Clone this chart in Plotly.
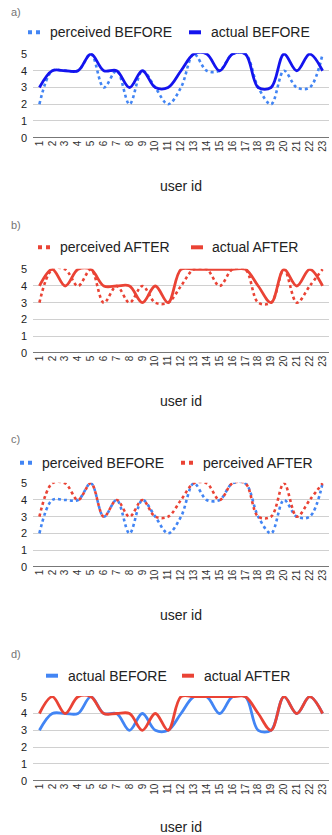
import plotly.graph_objects as go

users = [str(i) for i in range(1, 24)]
perceived_before = [2, 4, 4, 4, 5, 3, 4, 2, 4, 3, 2, 3, 5, 4, 4, 5, 5, 3, 2, 4, 3, 3, 5]
actual_before = [3, 4, 4, 4, 5, 4, 4, 3, 4, 3, 3, 4, 5, 5, 4, 5, 5, 3, 3, 5, 4, 5, 4]
perceived_after = [3, 5, 5, 4, 5, 3, 4, 3, 4, 3, 3, 4, 5, 5, 4, 5, 5, 3, 3, 5, 3, 4, 5]
actual_after = [4, 5, 4, 5, 5, 4, 4, 4, 3, 4, 3, 5, 5, 5, 5, 5, 5, 4, 3, 5, 4, 5, 4]
y_ticks = [0, 1, 2, 3, 4, 5]
panel_labels = ["a)", "b)", "c)", "d)"]

DARK_BLUE = "#1414ee"
LIGHT_BLUE = "#4285F4"
RED = "#EA4335"
FONT = "Arial, Liberation Sans, sans-serif"

W, H = 332, 835

def py(px):
    return 1 - px / H

def pxx(px):
    return px / W

# (pixel of 5-line, pixel of 0-line)
panels = [(54.0, 137.7), (269.3, 352.7), (483.3, 566.7), (696.7, 780.7)]
legend_y = [32.3, 247.3, 462.7, 675.7]
label_y = [11.7, 225.0, 439.0, 654.0]
title_y = [186.0, 400.7, 615.0, 826.5]
# legend item start positions: (symbol1, text1, symbol2, text2)
legend_x = [(28, 48, 189, 209), (38, 58, 191, 210), (20, 40, 181, 201), (46, 66, 182, 202)]

YMAX = 5.04

fig = go.Figure()

series = [
    [("perceived BEFORE", perceived_before, LIGHT_BLUE, "dot"),
     ("actual BEFORE", actual_before, DARK_BLUE, "solid")],
    [("perceived AFTER", perceived_after, RED, "dot"),
     ("actual AFTER", actual_after, RED, "solid")],
    [("perceived BEFORE", perceived_before, LIGHT_BLUE, "dot"),
     ("perceived AFTER", perceived_after, RED, "dot")],
    [("actual BEFORE", actual_before, LIGHT_BLUE, "solid"),
     ("actual AFTER", actual_after, RED, "solid")],
]

layout = dict(
    width=W, height=H,
    margin=dict(l=0, r=0, t=0, b=0, autoexpand=False),
    paper_bgcolor="white", plot_bgcolor="white",
    font=dict(family=FONT, color="#222222"),
    showlegend=False,
    annotations=[], shapes=[],
)

for i, (top, zero) in enumerate(panels):
    n = "" if i == 0 else str(i + 1)
    unit = (zero - top) / 5
    top_px = top - (YMAX - 5) * unit
    dom = [py(zero), py(top_px)]
    for name, vals, color, dash in series[i]:
        fig.add_trace(go.Scatter(
            x=users, y=vals, name=name, mode="lines",
            line=dict(color=color, width=2.6 if dash == "dot" else 2.8,
                      dash="3px,3px" if dash == "dot" else "solid",
                      shape="spline", smoothing=1.0),
            xaxis="x" + n, yaxis="y" + n, hoverinfo="skip",
        ))
    layout["xaxis" + n] = dict(
        domain=[33 / W, 329 / W], anchor="y" + n, type="category",
        range=[-0.5, 22.5], tickangle=-90, showgrid=False,
        tickfont=dict(size=10, color="#333333"), ticks="",
        showline=False, zeroline=False, fixedrange=True, automargin=False,
        tickmode="array", tickvals=users, ticktext=users,
    )
    layout["yaxis" + n] = dict(
        domain=dom, anchor="x" + n, range=[0, YMAX],
        tickvals=y_ticks, ticktext=[str(v) for v in y_ticks],
        showgrid=True, gridcolor="#d0d0d0", gridwidth=1,
        zeroline=True, zerolinecolor="#777777", zerolinewidth=1.5,
        tickfont=dict(size=11, color="#222222"), ticks="",
        ticklabelstandoff=5, fixedrange=True, automargin=False,
    )
    # custom legend
    s1, t1, s2, t2 = legend_x[i]
    ly = py(legend_y[i])
    for (sx, tx), (name, vals, color, dash) in zip([(s1, t1), (s2, t2)], series[i]):
        layout["shapes"].append(dict(
            type="line", xref="paper", yref="paper",
            x0=pxx(sx), x1=pxx(sx + 12), y0=ly, y1=ly,
            line=dict(color=color, width=4,
                      dash="4px,4px" if dash == "dot" else "solid"),
        ))
        layout["annotations"].append(dict(
            text=name, x=pxx(tx), y=ly, xref="paper", yref="paper",
            xanchor="left", yanchor="middle", showarrow=False,
            font=dict(size=14, color="#222222", family=FONT),
        ))
    layout["annotations"].append(dict(
        text=panel_labels[i], x=pxx(9), y=py(label_y[i]),
        xref="paper", yref="paper", xanchor="left", yanchor="middle",
        showarrow=False, font=dict(size=11, color="#757575", family=FONT),
    ))
    layout["annotations"].append(dict(
        text="user id", x=pxx(181), y=py(title_y[i]),
        xref="paper", yref="paper", xanchor="center", yanchor="middle",
        showarrow=False, font=dict(size=14, color="#222222", family=FONT),
    ))

fig.update_layout(**layout)
fig.write_html(
    "out.html",
    config={"staticPlot": True},
    post_script="document.body.style.margin='0';document.body.style.overflow='hidden';",
)
